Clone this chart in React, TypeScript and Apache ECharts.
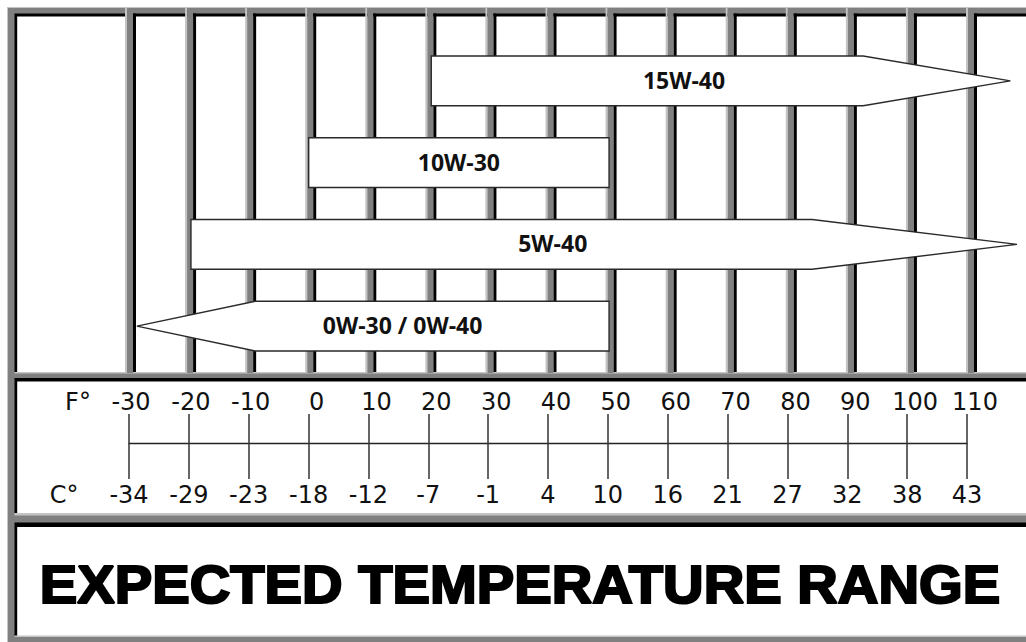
import React, { useEffect, useRef } from "react";
import * as echarts from "echarts";

// ---- data ----
const tempF = [-30, -20, -10, 0, 10, 20, 30, 40, 50, 60, 70, 80, 90, 100, 110];
const tempC = [-34, -29, -23, -18, -12, -7, -1, 4, 10, 16, 21, 27, 32, 38, 43];
const grades = ["15W-40", "10W-30", "5W-40", "0W-30 / 0W-40"];
// arrow outline in °F: left tip, left body edge, right body edge, right tip
const leftTipF = [19.4, -1, -20.6, -29.6];
const leftBodyF = [19.4, -1, -20.6, -9.9];
const rightBodyF = [91.3, 49, 82.8, 49];
const rightTipF = [115.8, 49, 116.9, 49];
const titleText = "EXPECTED TEMPERATURE RANGE";

const GRAY = "#808080";
const LIGHT = "#c4c4c4";
const BLACK = "#000";

export default function App() {
  const ref = useRef<HTMLDivElement>(null);
  useEffect(() => {
    if (!ref.current) return;
    const chart = echarts.init(ref.current, null, { renderer: "svg" });

    const rect = (x: number, y: number, w: number, h: number, fill: string, z = 0) => ({
      type: "rect",
      z,
      silent: true,
      shape: { x, y, width: w, height: h },
      style: { fill },
    });

    const frame = [
      rect(7, 7, 1019, 635, LIGHT, 0),
      rect(8, 8, 1018, 634, GRAY, 0),
      // top panel
      rect(14.5, 13.5, 1012, 358.5, BLACK, 0),
      rect(17.2, 16.5, 1009, 355.5, "#fff", 0),
      rect(14.5, 372, 1012, 1.5, LIGHT, 0),
      // middle panel
      rect(14.5, 378, 1012, 135, BLACK, 0),
      rect(17.2, 381.5, 1009, 131.5, "#fff", 0),
      rect(14.5, 513, 1012, 2.5, LIGHT, 0),
      // bottom panel
      rect(14.5, 522.5, 1012, 113.5, BLACK, 0),
      rect(17.2, 527, 1009, 109, "#fff", 0),
      rect(14.5, 635.5, 1012, 1.5, LIGHT, 0),
    ];

    const unitText = (txt: string, x: number, y: number) => ({
      type: "text",
      z: 10,
      x,
      y,
      style: {
        text: txt,
        fill: "#111",
        font: '24px "DejaVu Sans"',
        textAlign: "center",
        textVerticalAlign: "middle",
      },
    });

    const titleEl = {
      type: "text",
      z: 10,
      x: 520,
      y: 585,
      scaleX: 1.06,
      style: {
        text: titleText,
        fill: "#000",
        font: 'bold 53px "Liberation Sans", Arial, sans-serif',
        stroke: "#000",
        lineWidth: 2.2,
        textAlign: "center",
        textVerticalAlign: "middle",
      },
    };

    const labelFont = { fontFamily: '"DejaVu Sans"', fontSize: 24, color: "#111", lineHeight: 24 };

    const option: any = {
      animation: false,
      backgroundColor: "#fff",
      graphic: {
        elements: [...frame, unitText("F°", 78, 402), unitText("C°", 64, 495), titleEl],
      },
      grid: [
        { left: 134.5, width: 841, top: 40, height: 327 },
        { left: 129, width: 838, top: 442, height: 1 },
        { left: 137, width: 838, top: 442, height: 1 },
      ],
      xAxis: [
        { gridIndex: 0, type: "value", min: -30, max: 110, interval: 10, show: false },
        {
          gridIndex: 1,
          type: "value",
          position: "top",
          min: -30,
          max: 110,
          interval: 10,
          axisLine: { show: true, lineStyle: { color: "#222", width: 1.3 } },
          axisTick: { show: true, length: 29, lineStyle: { color: "#333", width: 1.5 } },
          splitLine: { show: false },
          axisLabel: { show: false },
        },
        {
          gridIndex: 1,
          type: "value",
          position: "bottom",
          min: -30,
          max: 110,
          interval: 10,
          axisLine: { show: false },
          axisTick: { show: true, length: 36, lineStyle: { color: "#333", width: 1.5 } },
          splitLine: { show: false },
          axisLabel: {
            margin: 40,
            showMinLabel: true,
            showMaxLabel: true,
            ...labelFont,
            formatter: (v: number) => {
              const i = tempF.indexOf(v);
              return i >= 0 ? String(tempC[i]) : "";
            },
          },
        },
        {
          gridIndex: 2,
          type: "value",
          position: "top",
          min: -30,
          max: 110,
          interval: 10,
          axisLine: { show: false },
          axisTick: { show: false },
          splitLine: { show: false },
          axisLabel: {
            margin: 28,
            showMinLabel: true,
            showMaxLabel: true,
            formatter: (v: number) => (v >= 0 ? `{p|${v}}` : `{n|${v}}`),
            rich: {
              p: { ...labelFont },
              n: { ...labelFont, padding: [0, 12, 0, 0] },
            },
          },
        },
      ],
      yAxis: [
        { gridIndex: 0, type: "category", data: grades, inverse: true, show: false },
        { gridIndex: 1, type: "value", show: false },
        { gridIndex: 2, type: "value", show: false },
      ],
      series: [
        {
          type: "custom",
          name: "grid bars",
          xAxisIndex: 0,
          yAxisIndex: 0,
          z: 3,
          silent: true,
          data: tempF.map((f) => [f, 0]),
          encode: { x: 0, y: 1 },
          renderItem: (params: any, api: any) => {
            const x = api.coord([api.value(0), 0])[0];
            return {
              type: "group",
              children: [
                { type: "rect", shape: { x: x - 9.5, y: 8, width: 2, height: 365 }, style: { fill: LIGHT } },
                { type: "rect", shape: { x: x - 7.5, y: 8, width: 6, height: 365 }, style: { fill: GRAY } },
                { type: "rect", shape: { x: x - 1.5, y: 13.5, width: 3, height: 358.5 }, style: { fill: BLACK } },
              ],
            };
          },
        },
        {
          type: "custom",
          name: "grades",
          xAxisIndex: 0,
          yAxisIndex: 0,
          z: 5,
          silent: true,
          clip: false,
          data: grades.map((g, i) => [i, leftTipF[i], leftBodyF[i], rightBodyF[i], rightTipF[i]]),
          encode: { y: 0, x: [1, 2, 3, 4] },
          renderItem: (params: any, api: any) => {
            const i = api.value(0);
            const yc = api.coord([0, i])[1];
            const h = api.size([0, 1])[1] * 0.61;
            const xlt = api.coord([api.value(1), i])[0];
            const xlb = api.coord([api.value(2), i])[0];
            const xrb = api.coord([api.value(3), i])[0];
            const xrt = api.coord([api.value(4), i])[0];
            const pts = [
              [xlt, yc],
              [xlb, yc - h / 2],
              [xrb, yc - h / 2],
              [xrt, yc],
              [xrb, yc + h / 2],
              [xlb, yc + h / 2],
            ];
            const labelX = ((xlb + xrb) / 2 + (xlt + xrt) / 2) / 2;
            return {
              type: "group",
              children: [
                {
                  type: "polygon",
                  shape: { points: pts },
                  style: { fill: "#fff", stroke: "#2a2a2a", lineWidth: 1.4 },
                },
                {
                  type: "text",
                  x: labelX,
                  y: yc - 1,
                  style: {
                    text: grades[i],
                    fill: "#111",
                    font: 'bold 23px "Open Sans"',
                    textAlign: "center",
                    textVerticalAlign: "middle",
                  },
                },
              ],
            };
          },
        },
      ],
    };

    chart.setOption(option);
    return () => chart.dispose();
  }, []);

  return (
    <div
      ref={ref}
      style={{ position: "fixed", left: 0, top: 0, width: 1026, height: 642, background: "#fff" }}
    />
  );
}
